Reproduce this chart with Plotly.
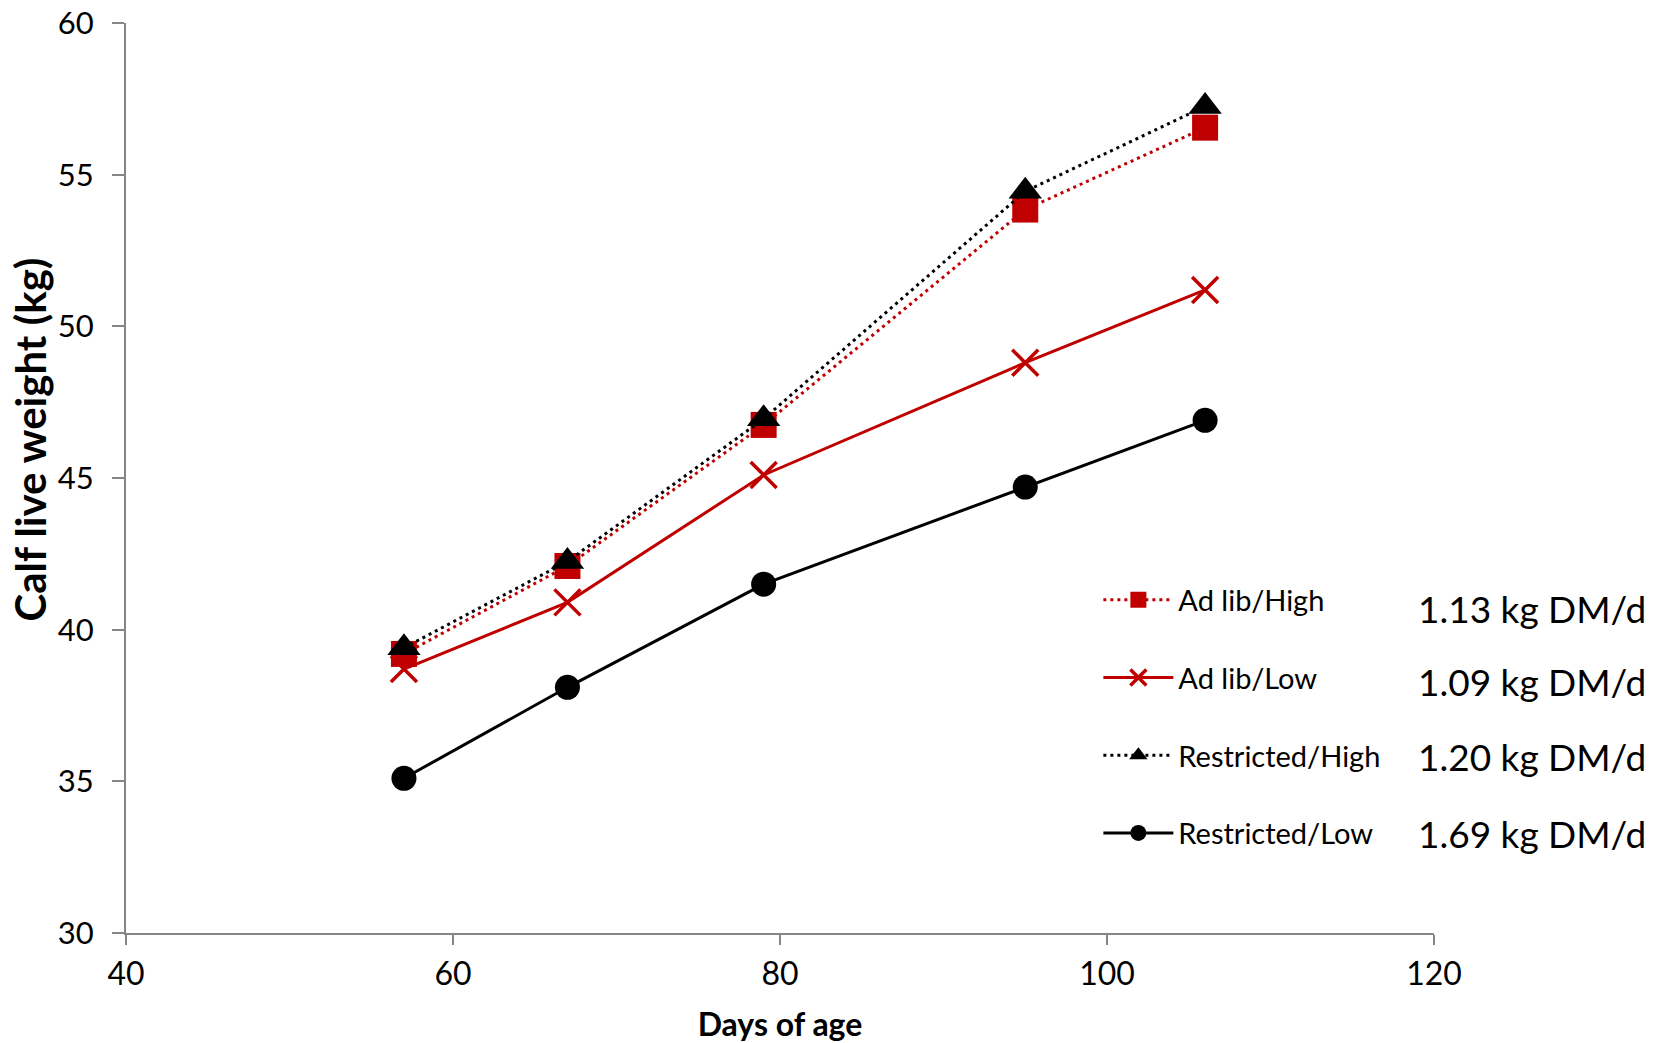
import plotly.graph_objects as go

days = [57, 67, 79, 95, 106]
adlib_high = [39.2, 42.1, 46.75, 53.85, 56.55]
adlib_low = [38.7, 40.9, 45.1, 48.8, 51.2]
restricted_high = [39.4, 42.25, 46.95, 54.45, 57.25]
restricted_low = [35.1, 38.1, 41.5, 44.7, 46.9]

series_names = ["Ad lib/High", "Ad lib/Low", "Restricted/High", "Restricted/Low"]
intake_labels = ["1.13 kg DM/d", "1.09 kg DM/d", "1.20 kg DM/d", "1.69 kg DM/d"]

RED = "#C00000"
BLACK = "#000000"
AXIS = "#868686"
FONT = "Lato, 'Liberation Sans', sans-serif"

fig = go.Figure()

fig.add_trace(go.Scatter(
    x=days, y=adlib_high, name=series_names[0], mode="lines+markers",
    line=dict(color=RED, width=3, dash="3px,4px"),
    marker=dict(symbol="square", size=26, color=RED),
    legendgroup="a"))
fig.add_trace(go.Scatter(
    x=days, y=adlib_low, name=series_names[1], mode="lines+markers",
    line=dict(color=RED, width=3),
    marker=dict(symbol="x-thin-open", size=26, color=RED, line=dict(color=RED, width=3.5)),
    legendgroup="b"))
fig.add_trace(go.Scatter(
    x=days, y=restricted_high, name=series_names[2], mode="lines+markers",
    line=dict(color=BLACK, width=3, dash="3px,4px"),
    marker=dict(symbol="triangle-up", size=29, color=BLACK),
    legendgroup="c"))
fig.add_trace(go.Scatter(
    x=days, y=restricted_low, name=series_names[3], mode="lines+markers",
    line=dict(color=BLACK, width=3),
    marker=dict(symbol="circle", size=25, color=BLACK),
    legendgroup="d"))

ann_y = [0.357, 0.2761, 0.1935, 0.1098]
for lab, yy in zip(intake_labels, ann_y):
    fig.add_annotation(text=lab, xref="paper", yref="paper", x=0.9862, y=yy,
                       xanchor="left", yanchor="middle", showarrow=False,
                       font=dict(family=FONT, size=37, color="black"))

# y-axis title (placed as in the reference, slightly above the plot centre)
fig.add_annotation(text="<b>Calf live weight (kg)</b>", xref="paper", yref="paper",
                   x=-0.0737, y=0.5418, xanchor="center", yanchor="middle",
                   textangle=-90, showarrow=False,
                   font=dict(family=FONT, size=42, color="black"))

fig.update_layout(
    width=1657, height=1043,
    margin=dict(l=126, r=223, t=23, b=110, autoexpand=False),
    paper_bgcolor="white", plot_bgcolor="white",
    font=dict(family=FONT, color="black"),
    showlegend=True,
    legend=dict(x=0.7434, y=0.394, xanchor="left", yanchor="top",
                font=dict(family=FONT, size=29, color="black"),
                bgcolor="rgba(0,0,0,0)", tracegroupgap=37, itemwidth=70),
    xaxis=dict(range=[40, 120], dtick=20, tick0=40, showgrid=False, zeroline=False,
               automargin=False,
               showline=True, linecolor=AXIS, linewidth=2,
               ticks="outside", ticklen=10, tickcolor=AXIS, tickwidth=2,
               ticklabelstandoff=2,
               tickfont=dict(family=FONT, size=32, color="black"),
               title=dict(text="<b>Days of age</b>", font=dict(family=FONT, size=32, color="black"), standoff=24)),
    yaxis=dict(range=[30, 60], dtick=5, tick0=30, showgrid=False, zeroline=False,
               automargin=False,
               showline=True, linecolor=AXIS, linewidth=2,
               ticks="outside", ticklen=12, tickcolor=AXIS, tickwidth=2,
               ticklabelstandoff=12,
               tickfont=dict(family=FONT, size=31, color="black")),
)

fig.write_html("out.html")
